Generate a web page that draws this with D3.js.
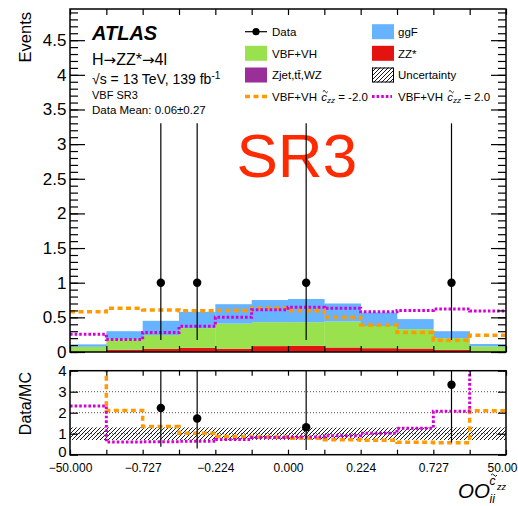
<!DOCTYPE html>
<html>
<head>
<meta charset="utf-8">
<script src="https://cdn.jsdelivr.net/npm/d3@7"></script>
<style>
  body { margin: 0; background: #fff; }
  svg { display: block; }
  text { font-family: "Liberation Sans", Arial, Helvetica, sans-serif; fill: #000; }
</style>
</head>
<body>
<svg id="chart" width="518" height="506"></svg>
<script>
// ---- binning: 12 bins of the optimal observable, labelled at every second edge ----
const edgeLabels = ["\u221250.000", "", "\u22120.727", "", "\u22120.224", "", "0.000", "", "0.224", "", "0.727", "", "50.00"];

// ---- expected events per bin (stacked) ----
const zjet  = [0.004, 0.006, 0.003, 0.003, 0.003, 0.003, 0.003, 0.005, 0.003, 0.003, 0.003, 0.003];
const zzBkg = [0.000, 0.027, 0.042, 0.057, 0.045, 0.082, 0.087, 0.060, 0.052, 0.047, 0.027, 0.002];
const vbfvh = [0.071, 0.157, 0.200, 0.285, 0.362, 0.345, 0.340, 0.375, 0.320, 0.280, 0.170, 0.075];
const ggF   = [0.035, 0.110, 0.205, 0.235, 0.280, 0.320, 0.335, 0.260, 0.195, 0.145, 0.100, 0.035];

// ---- observed data ----
const dataN  = [0, 0, 1, 1, 0, 0, 1, 0, 0, 0, 1, 0];
const dataLo = [0, 0, 0.173, 0.173, 0, 0, 0.173, 0, 0, 0, 0.173, 0];
const dataHi = [0, 0, 3.300, 3.300, 0, 0, 3.300, 0, 0, 0, 3.300, 0];

// ---- total prediction with VBF+VH at c~zz = -2.0 and +2.0 ----
const predMinus2 = [0.58, 0.63, 0.605, 0.595, 0.60, 0.63, 0.595, 0.50, 0.39, 0.28, 0.17, 0.24];
const predPlus2  = [0.255, 0.18, 0.28, 0.37, 0.50, 0.61, 0.645, 0.63, 0.58, 0.60, 0.62, 0.59];

// ---- relative uncertainty on the prediction ----
const relUnc = [0.30, 0.30, 0.30, 0.30, 0.29, 0.29, 0.29, 0.29, 0.29, 0.29, 0.30, 0.30];

// ---- axis ticks ----
const mainMajor = d3.range(0, 4.51, 0.5);
const mainMinor = d3.range(0, 4.95, 0.1);
const ratioMajor = [0, 1, 2, 3, 4];
const ratioGrid = [1, 2, 3];

const colors = { ggF: "#66b3ff", vbf: "#99e24d", zz: "#e3130f", zjet: "#9a2f9a", minus: "#ff9a00", plus: "#d600d6", sr: "#ff2a00" };

const svg = d3.select("#chart");
const nBins = ggF.length;
const L = 70, R = 506;
const x = d3.scaleLinear().domain([0, nBins]).range([L, R]);
const yMain = d3.scaleLinear().domain([0, 4.95]).range([352, 9]);
const yRatio = d3.scaleLinear().domain([0, 4]).range([454.7, 370.7]);

// clip paths for each panel
const defs = svg.append("defs");
defs.append("clipPath").attr("id", "clipMain").append("rect")
  .attr("x", L).attr("y", yMain.range()[1]).attr("width", R - L).attr("height", yMain.range()[0] - yMain.range()[1]);
defs.append("clipPath").attr("id", "clipRatio").append("rect")
  .attr("x", L).attr("y", yRatio.range()[1]).attr("width", R - L).attr("height", yRatio.range()[0] - yRatio.range()[1]);
const hatch = defs.append("pattern").attr("id", "hatch").attr("patternUnits", "userSpaceOnUse")
  .attr("width", 4).attr("height", 4);
hatch.append("path").attr("d", "M-1,1 l2,-2 M0,4 l4,-4 M3,5 l2,-2").attr("stroke", "#000").attr("stroke-width", 0.9);

// small tilde accent drawn as a path
function tilde(cx, cy, w) {
  svg.append("path")
    .attr("d", `M${cx - w / 2},${cy + 0.6} q${w / 4},-2.4 ${w / 2},0 t${w / 2},0`)
    .attr("fill", "none").attr("stroke", "#000").attr("stroke-width", 0.9);
}

// ---------------- main panel ----------------
const rows = d3.range(nBins).map(i => ({ i, zjet: zjet[i], zz: zzBkg[i], vbf: vbfvh[i], ggF: ggF[i] }));
const keys = ["zjet", "zz", "vbf", "ggF"];
const keyColor = { zjet: colors.zjet, zz: colors.zz, vbf: colors.vbf, ggF: colors.ggF };
const stacked = d3.stack().keys(keys)(rows);
const total = rows.map(r => r.zjet + r.zz + r.vbf + r.ggF);

const gMain = svg.append("g").attr("clip-path", "url(#clipMain)");
stacked.forEach(layer => {
  gMain.append("g").selectAll("rect").data(layer).join("rect")
    .attr("x", (d, i) => x(i))
    .attr("width", (d, i) => x(i + 1) - x(i) + 0.3)
    .attr("y", d => yMain(d[1]))
    .attr("height", d => Math.max(0, yMain(d[0]) - yMain(d[1])))
    .attr("fill", keyColor[layer.key]);
});

function stepPoints(vals, ys) {
  const pts = [];
  vals.forEach((v, i) => { pts.push([x(i), ys(v)]); pts.push([x(i + 1), ys(v)]); });
  return pts;
}
const line = d3.line();

// region label
svg.append("text").attr("x", 236.5).attr("y", 177).attr("font-size", 62).style("fill", colors.sr).text("SR3");

gMain.append("path").attr("d", line(stepPoints(predMinus2, yMain)))
  .attr("fill", "none").attr("stroke", colors.minus).attr("stroke-width", 3.5).attr("stroke-dasharray", "5,3.5");
gMain.append("path").attr("d", line(stepPoints(predPlus2, yMain)))
  .attr("fill", "none").attr("stroke", colors.plus).attr("stroke-width", 3).attr("stroke-dasharray", "2.6,2");

// data points with Poisson errors
const dataIdx = d3.range(nBins).filter(i => dataN[i] > 0);
const cx = i => (x(i) + x(i + 1)) / 2;
svg.append("g").selectAll("line").data(dataIdx).join("line")
  .attr("x1", cx).attr("x2", cx)
  .attr("y1", i => yMain(dataLo[i])).attr("y2", i => yMain(dataHi[i]))
  .attr("stroke", "#000").attr("stroke-width", 1.2);
svg.append("g").selectAll("circle").data(dataIdx).join("circle")
  .attr("cx", cx).attr("cy", i => yMain(dataN[i])).attr("r", 4.2).attr("fill", "#000");

// frame + ticks
svg.append("rect").attr("x", L).attr("y", yMain.range()[1]).attr("width", R - L)
  .attr("height", yMain.range()[0] - yMain.range()[1]).attr("fill", "none").attr("stroke", "#000").attr("stroke-width", 1.5);

function styleAxis(g) { g.select(".domain").remove(); g.selectAll("line").attr("stroke", "#000").attr("stroke-width", 1.2); return g; }

const fmtMain = v => (Math.abs(v - Math.round(v)) < 1e-6 ? String(Math.round(v)) : v.toFixed(1));
svg.append("g").attr("transform", `translate(${L},0)`)
  .call(d3.axisLeft(yMain).tickValues(mainMinor).tickSize(-8).tickFormat("")).call(styleAxis);
svg.append("g").attr("transform", `translate(${L},0)`)
  .call(d3.axisLeft(yMain).tickValues(mainMajor).tickSize(-15).tickPadding(3.5).tickFormat(fmtMain))
  .call(styleAxis)
  .call(g => g.selectAll("text").attr("font-size", 17).attr("font-family", "Liberation Sans, Arial, sans-serif"));
svg.append("g").attr("transform", `translate(${R},0)`)
  .call(d3.axisRight(yMain).tickValues(mainMinor).tickSize(-8).tickFormat("")).call(styleAxis);
svg.append("g").attr("transform", `translate(${R},0)`)
  .call(d3.axisRight(yMain).tickValues(mainMajor).tickSize(-15).tickFormat("")).call(styleAxis);
svg.append("g").attr("transform", `translate(0,${yMain.range()[0]})`)
  .call(d3.axisBottom(x).tickValues(d3.range(nBins + 1)).tickSize(-6).tickFormat("")).call(styleAxis);
svg.append("g").attr("transform", `translate(0,${yMain.range()[1]})`)
  .call(d3.axisTop(x).tickValues(d3.range(nBins + 1)).tickSize(-6).tickFormat("")).call(styleAxis);

// y title
svg.append("text").attr("transform", "translate(30.5,12) rotate(-90)")
  .attr("text-anchor", "end").attr("font-size", 16.5).text("Events");

// ---------------- labels ----------------
svg.append("text").attr("x", 92).attr("y", 40).attr("font-size", 20)
  .attr("font-weight", "bold").attr("font-style", "italic").text("ATLAS");
const hz = svg.append("text").attr("x", 92).attr("y", 65).attr("font-size", 16);
hz.append("tspan").text("H");
hz.append("tspan").attr("font-family", "DejaVu Sans").attr("font-size", 15).text("\u2192");
hz.append("tspan").text("ZZ*");
hz.append("tspan").attr("font-family", "DejaVu Sans").attr("font-size", 15).text("\u2192");
hz.append("tspan").text("4l");
const rs = svg.append("text").attr("x", 92).attr("y", 84).attr("font-size", 14);
rs.append("tspan").text("\u221As = 13 TeV, 139 fb");
rs.append("tspan").attr("font-size", 10).attr("dy", -5).text("-1");
svg.append("text").attr("x", 92).attr("y", 98.7).attr("font-size", 11).text("VBF SR3");
svg.append("text").attr("x", 92).attr("y", 114.3).attr("font-size", 11.5).text("Data Mean: 0.06\u00B10.27");

// ---------------- legend ----------------
const lgFont = 11.5;
const rowY = [31.7, 53.3, 75, 96.5];
const colX = [245, 372];
const txtX = [272, 398];
function legText(col, row, str) {
  return svg.append("text").attr("x", txtX[col]).attr("y", rowY[row] + 4.2).attr("font-size", lgFont).text(str);
}
function legBox(col, row, fill) {
  svg.append("rect").attr("x", colX[col]).attr("y", rowY[row] - 7.5).attr("width", 22).attr("height", 15).attr("fill", fill);
}
// data
svg.append("line").attr("x1", colX[0]).attr("x2", colX[0] + 22).attr("y1", rowY[0]).attr("y2", rowY[0]).attr("stroke", "#000").attr("stroke-width", 1.2);
svg.append("circle").attr("cx", colX[0] + 11).attr("cy", rowY[0]).attr("r", 3.6).attr("fill", "#000");
legText(0, 0, "Data");
legBox(1, 0, colors.ggF); legText(1, 0, "ggF");
legBox(0, 1, colors.vbf); legText(0, 1, "VBF+VH");
legBox(1, 1, colors.zz); legText(1, 1, "ZZ*");
legBox(0, 2, colors.zjet);
const zj = legText(0, 2, "Zjet,t");
zj.append("tspan").text("t\u0304");
zj.append("tspan").text(",WZ");
legBox(1, 2, "url(#hatch)");
svg.append("rect").attr("x", colX[1] + 0.5).attr("y", rowY[2] - 7).attr("width", 21).attr("height", 14)
  .attr("fill", "none").attr("stroke", "#000").attr("stroke-width", 1);
legText(1, 2, "Uncertainty");

function cTilde(col, row, value) {
  const t = legText(col, row, "VBF+VH ");
  t.append("tspan").attr("font-style", "italic").attr("dx", 1).text("c");
  t.append("tspan").attr("font-style", "italic").attr("font-size", 8).attr("dy", 2.5).text("zz");
  t.append("tspan").attr("dy", -2.5).text(" = " + value);
  const node = t.node();
  const cStart = node.getSubStringLength ? node.getSubStringLength(0, 7) : 48;
  tilde(txtX[col] + cStart + 5, rowY[row] - 5.5, 5);
}
svg.append("line").attr("x1", colX[0]).attr("x2", colX[0] + 22).attr("y1", rowY[3]).attr("y2", rowY[3])
  .attr("stroke", colors.minus).attr("stroke-width", 3.5).attr("stroke-dasharray", "5,3.5");
cTilde(0, 3, "-2.0");
svg.append("line").attr("x1", colX[1]).attr("x2", colX[1] + 20).attr("y1", rowY[3]).attr("y2", rowY[3])
  .attr("stroke", colors.plus).attr("stroke-width", 3).attr("stroke-dasharray", "2.6,2");
cTilde(1, 3, "2.0");

// ---------------- ratio panel ----------------
const gRatio = svg.append("g").attr("clip-path", "url(#clipRatio)");
gRatio.append("g").selectAll("line").data(ratioGrid).join("line")
  .attr("x1", L).attr("x2", R).attr("y1", yRatio).attr("y2", yRatio)
  .attr("stroke", "#555").attr("stroke-width", 1).attr("stroke-dasharray", "1,2");
gRatio.append("g").selectAll("rect").data(d3.range(nBins)).join("rect")
  .attr("x", i => x(i)).attr("width", i => x(i + 1) - x(i) + 0.3)
  .attr("y", i => yRatio(1 + relUnc[i])).attr("height", i => yRatio(1 - relUnc[i]) - yRatio(1 + relUnc[i]))
  .attr("fill", "url(#hatch)");
gRatio.append("path").attr("d", line(stepPoints(predMinus2.map((v, i) => v / total[i]), yRatio)))
  .attr("fill", "none").attr("stroke", colors.minus).attr("stroke-width", 3.5).attr("stroke-dasharray", "5,3.5");
gRatio.append("path").attr("d", line(stepPoints(predPlus2.map((v, i) => v / total[i]), yRatio)))
  .attr("fill", "none").attr("stroke", colors.plus).attr("stroke-width", 3).attr("stroke-dasharray", "2.6,2");
gRatio.append("g").selectAll("line").data(dataIdx).join("line")
  .attr("x1", cx).attr("x2", cx)
  .attr("y1", i => yRatio(dataLo[i] / total[i])).attr("y2", i => yRatio(dataHi[i] / total[i]))
  .attr("stroke", "#000").attr("stroke-width", 1.2);
gRatio.append("g").selectAll("circle").data(dataIdx).join("circle")
  .attr("cx", cx).attr("cy", i => yRatio(dataN[i] / total[i])).attr("r", 4.2).attr("fill", "#000");

svg.append("rect").attr("x", L).attr("y", yRatio.range()[1]).attr("width", R - L)
  .attr("height", yRatio.range()[0] - yRatio.range()[1]).attr("fill", "none").attr("stroke", "#000").attr("stroke-width", 1.5);

svg.append("g").attr("transform", `translate(${L},0)`)
  .call(d3.axisLeft(yRatio).tickValues(ratioMajor).tickSize(-8).tickPadding(3.5).tickFormat(d3.format("d")))
  .call(styleAxis)
  .call(g => g.selectAll("text").attr("font-size", 15).attr("font-family", "Liberation Sans, Arial, sans-serif")
    .attr("y", d => (d === 0 ? -3.5 : 0)));
svg.append("g").attr("transform", `translate(${R},0)`)
  .call(d3.axisRight(yRatio).tickValues(ratioMajor).tickSize(-8).tickFormat("")).call(styleAxis);
svg.append("g").attr("transform", `translate(0,${yRatio.range()[0]})`)
  .call(d3.axisBottom(x).tickValues(d3.range(nBins + 1)).tickSize(-5).tickPadding(8.6).tickFormat(i => edgeLabels[i]))
  .call(styleAxis)
  .call(g => g.selectAll("text").attr("font-size", 12).attr("font-family", "Liberation Sans, Arial, sans-serif")
    .attr("x", d => (d === nBins ? -4 : 0)));
svg.append("g").attr("transform", `translate(0,${yRatio.range()[1]})`)
  .call(d3.axisTop(x).tickValues(d3.range(nBins + 1)).tickSize(-5).tickFormat("")).call(styleAxis);

svg.append("text").attr("transform", "translate(30.5,372) rotate(-90)")
  .attr("text-anchor", "end").attr("font-size", 16).text("Data/MC");

// x title: OO with c~zz superscript and ii subscript
svg.append("text").attr("x", 458).attr("y", 498).attr("font-size", 20.5).attr("font-style", "italic").text("OO");
svg.append("text").attr("x", 489.5).attr("y", 484.5).attr("font-size", 12).attr("font-style", "italic").text("c");
tilde(494, 474.5, 6);
svg.append("text").attr("x", 497).attr("y", 490).attr("font-size", 9).attr("font-style", "italic").text("zz");
svg.append("text").attr("x", 489.5).attr("y", 503).attr("font-size", 12).attr("font-style", "italic").text("ii");
</script>
</body>
</html>
